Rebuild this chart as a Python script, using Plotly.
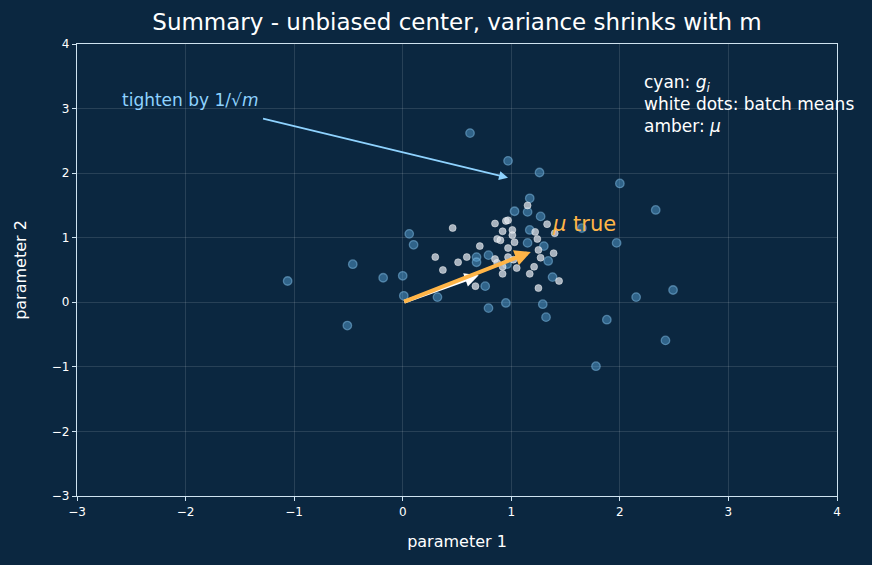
import plotly.graph_objects as go

# per-sample gradients g_i (cyan)
g_x = [0.62, 0.97, 1.26, 2.00, 2.33, 1.17, 1.15, 1.03, 1.27, 1.65, 1.97, 1.17, 1.15, 1.30, 1.34, 1.38,
       2.49, 2.15, 1.88, 2.42, 1.78, 1.29, 1.32, 0.95, 0.79, 0.76, 0.68, 0.68, 0.79, 0.96, 0.32, 0.01,
       0.00, -0.18, -0.46, -1.06, -0.51, 0.06, 0.10]
g_y = [2.62, 2.19, 2.01, 1.84, 1.43, 1.61, 1.40, 1.41, 1.33, 1.15, 0.92, 1.12, 0.92, 0.87, 0.64, 0.39,
       0.19, 0.08, -0.27, -0.59, -0.99, -0.03, -0.23, -0.01, -0.09, 0.25, 0.70, 0.62, 0.73, 0.59, 0.08, 0.10,
       0.41, 0.38, 0.59, 0.33, -0.36, 1.06, 0.89]

# batch means (white dots)
b_x = [1.15, 1.33, 0.85, 0.95, 0.97, 0.46, 0.92, 1.01, 1.22, 1.40, 0.87, 0.90, 1.01, 1.03, 1.24, 0.97,
       0.71, 1.25, 1.27, 1.39, 0.30, 0.51, 0.59, 0.85, 0.87, 0.97, 1.02, 0.92, 0.92, 1.05, 1.21, 1.17,
       1.44, 0.37, 0.67, 1.25]
b_y = [1.50, 1.21, 1.22, 1.26, 1.27, 1.15, 1.10, 1.12, 1.09, 1.07, 0.98, 0.96, 1.04, 0.93, 0.98, 0.84,
       0.87, 0.81, 0.69, 0.76, 0.70, 0.62, 0.70, 0.67, 0.61, 0.70, 0.66, 0.55, 0.44, 0.53, 0.55, 0.44,
       0.33, 0.50, 0.25, 0.22]

mu_true = [1.18, 0.78]
white_vec = [0.70, 0.42]

tick_vals_x = [-3, -2, -1, 0, 1, 2, 3, 4]
tick_vals_y = [-3, -2, -1, 0, 1, 2, 3, 4]
tick_text_x = ["\u22123", "\u22122", "\u22121", "0", "1", "2", "3", "4"]
tick_text_y = ["\u22123", "\u22122", "\u22121", "0", "1", "2", "3", "4"]

bg = "#0b2740"
font = "DejaVu Sans"

fig = go.Figure()
fig.add_trace(go.Scatter(
    x=g_x, y=g_y, mode="markers",
    marker=dict(size=8.5, color="rgba(85,160,210,0.5)",
                line=dict(color="rgba(130,190,230,0.5)", width=1.3)),
    showlegend=False, hoverinfo="skip"))
fig.add_trace(go.Scatter(
    x=b_x, y=b_y, mode="markers",
    marker=dict(size=7, color="rgba(220,226,232,0.75)",
                line=dict(color="rgba(255,255,255,0.45)", width=1)),
    showlegend=False, hoverinfo="skip"))

annotations = [
    dict(x=white_vec[0], y=white_vec[1], ax=0, ay=0, xref="x", yref="y", axref="x", ayref="y",
         showarrow=True, arrowhead=2, arrowsize=0.8, arrowwidth=3.5, arrowcolor="white", text=""),
    dict(x=mu_true[0], y=mu_true[1], ax=0, ay=0, xref="x", yref="y", axref="x", ayref="y",
         showarrow=True, arrowhead=2, arrowsize=0.8, arrowwidth=4, arrowcolor="#ffb547", text=""),
    dict(x=0.97, y=1.93, ax=-1.30, ay=2.85, xref="x", yref="y", axref="x", ayref="y",
         showarrow=True, arrowhead=2, arrowsize=1, arrowwidth=1.8, arrowcolor="#8fd3ff", text=""),
    dict(x=-2.6, y=3.13, xref="x", yref="y", showarrow=False, xanchor="left", yanchor="middle",
         text="tighten by 1/\u221a<i>m</i>", font=dict(family=font, size=17, color="#8fd3ff")),
    dict(x=1.36, y=1.21, xref="x", yref="y", showarrow=False, xanchor="left", yanchor="middle",
         text="<i>\u03bc</i> true", font=dict(family=font, size=21, color="#ffb547")),
    dict(x=2.2, y=3.6, xref="x", yref="y", showarrow=False, xanchor="left", yanchor="top", align="left",
         text="cyan: <i>g<sub>i</sub></i><br>white dots: batch means<br>amber: <i>\u03bc</i>",
         font=dict(family=font, size=17, color="white")),
]

fig.update_layout(
    width=872, height=565,
    paper_bgcolor=bg, plot_bgcolor=bg,
    margin=dict(l=77, r=35, t=44, b=69),
    title=dict(text="Summary - unbiased center, variance shrinks with m", xref="paper", x=0.5,
               xanchor="center", y=0.961, yanchor="middle",
               font=dict(family=font, size=23, color="white")),
    font=dict(family=font, color="white"),
    annotations=annotations,
    xaxis=dict(range=[-3, 4], tickvals=tick_vals_x, ticktext=tick_text_x,
               showgrid=True, gridcolor="rgba(255,255,255,0.12)", gridwidth=1, zeroline=False,
               showline=True, linecolor="#cfe3f0", linewidth=1.2, mirror=True,
               ticks="outside", ticklen=4, tickcolor="#cfe3f0",
               tickfont=dict(family=font, size=12, color="white"),
               title=dict(text="parameter 1", font=dict(family=font, size=16, color="white"), standoff=18)),
    yaxis=dict(range=[-3, 4], tickvals=tick_vals_y, ticktext=tick_text_y,
               showgrid=True, gridcolor="rgba(255,255,255,0.12)", gridwidth=1, zeroline=False,
               showline=True, linecolor="#cfe3f0", linewidth=1.2, mirror=True,
               ticks="outside", ticklen=4, tickcolor="#cfe3f0",
               tickfont=dict(family=font, size=12, color="white"),
               title=dict(text="parameter 2", font=dict(family=font, size=16, color="white"), standoff=21)),
)

fig.write_html("out.html")
